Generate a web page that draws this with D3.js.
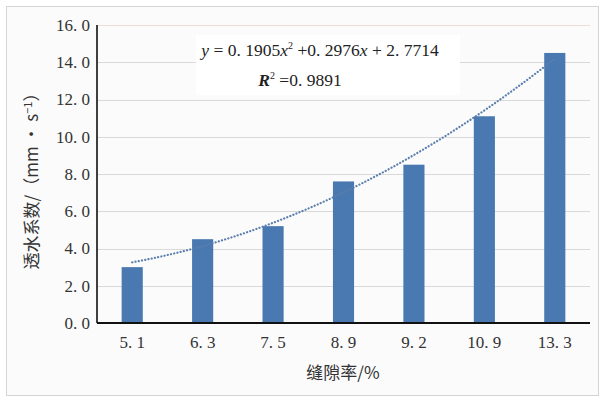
<!DOCTYPE html>
<html>
<head>
<meta charset="utf-8">
<script src="https://cdn.jsdelivr.net/npm/d3@7"></script>
<style>
  html, body { margin: 0; padding: 0; background: #fff; }
  svg { display: block; }
</style>
</head>
<body>
<div id="chart"></div>
<script>
// Permeability coefficient vs. gap ratio, with a quadratic trendline.
const categories = ['5.1', '6.3', '7.5', '8.9', '9.2', '10.9', '13.3'];
const permeability = [3.0, 4.5, 5.2, 7.6, 8.5, 11.1, 14.5];
const yTicks = [0, 2, 4, 6, 8, 10, 12, 14, 16];
// Trendline coefficients as printed on the chart (x = category index 1..7).
const trendCoef = [0.1905, 0.2976, 2.7714];
const rSquared = '0.9891';

(function(){
  const width = 603, height = 401;
  const margin = {top: 25, right: 13, bottom: 78, left: 97};
  const svg = d3.select('#chart').append('svg')
    .attr('width', width).attr('height', height);

  // Outer frame of the figure.
  svg.append('rect')
    .attr('x', 6.5).attr('y', 6.5)
    .attr('width', width - 11).attr('height', height - 12)
    .attr('fill', '#fbfbfb').attr('stroke', '#d4d4d4');

  const x = d3.scaleBand()
    .domain(categories)
    .range([margin.left, width - margin.right]);
  const y = d3.scaleLinear()
    .domain([0, 16])
    .range([height - margin.bottom, margin.top]);

  // Horizontal gridlines; the top one is tinted like the original.
  svg.append('g').selectAll('line')
    .data(yTicks.filter(d => d > 0))
    .join('line')
    .attr('x1', margin.left).attr('x2', width - margin.right)
    .attr('y1', d => Math.round(y(d)) + 0.5).attr('y2', d => Math.round(y(d)) + 0.5)
    .attr('stroke', d => d === 16 ? '#ecdcd2' : '#d9d9d9')
    .attr('stroke-width', 1.2);

  // Bars, 30% of each category band.
  const barW = x.bandwidth() * 0.3;
  svg.append('g').selectAll('rect')
    .data(permeability)
    .join('rect')
    .attr('x', (d, i) => x(categories[i]) + (x.bandwidth() - barW) / 2)
    .attr('y', d => y(d))
    .attr('width', barW)
    .attr('height', d => y(0) - y(d))
    .attr('fill', '#4a78b1');

  // Quadratic trendline drawn from the printed equation.
  const trendX = d3.range(1, 7.001, 0.1);
  const poly = t => trendCoef[0] * t * t + trendCoef[1] * t + trendCoef[2];
  const idxToPx = d3.scaleLinear()
    .domain([1, categories.length])
    .range([x(categories[0]) + x.bandwidth() / 2, x(categories[categories.length - 1]) + x.bandwidth() / 2]);
  svg.append('path')
    .datum(trendX)
    .attr('fill', 'none')
    .attr('stroke', '#5a7fae')
    .attr('stroke-width', 2.2)
    .attr('stroke-dasharray', '0.1,3.2')
    .attr('stroke-linecap', 'round')
    .attr('d', d3.line().x(t => idxToPx(t)).y(t => y(poly(t))));

  // Axes lines.
  svg.append('line')
    .attr('x1', margin.left).attr('x2', margin.left)
    .attr('y1', margin.top).attr('y2', y(0))
    .attr('stroke', '#111').attr('stroke-width', 1.6);
  svg.append('line')
    .attr('x1', margin.left).attr('x2', width - margin.right)
    .attr('y1', y(0)).attr('y2', y(0))
    .attr('stroke', '#111').attr('stroke-width', 1.8);

  const fmt = d => d3.format('.1f')(d).replace('.', '. ');
  const numFont = '"Times New Roman", "Liberation Serif", "DejaVu Serif", serif';

  // Y tick labels.
  svg.append('g').selectAll('text')
    .data(yTicks)
    .join('text')
    .attr('x', margin.left - 7)
    .attr('y', d => y(d))
    .attr('dy', '0.35em')
    .attr('text-anchor', 'end')
    .attr('font-family', numFont)
    .attr('font-size', 17)
    .attr('fill', '#333')
    .text(fmt);

  // X tick labels.
  svg.append('g').selectAll('text')
    .data(categories)
    .join('text')
    .attr('x', d => x(d) + x.bandwidth() / 2)
    .attr('y', y(0) + 25)
    .attr('text-anchor', 'middle')
    .attr('font-family', numFont)
    .attr('font-size', 17)
    .attr('fill', '#333')
    .text(d => d.replace('.', '. '));

  const cjkFont = '"Noto Sans CJK SC", sans-serif';

  // X axis title.
  svg.append('text')
    .attr('x', 343).attr('y', 379)
    .attr('text-anchor', 'middle')
    .attr('font-family', cjkFont)
    .attr('font-size', 17)
    .attr('fill', '#333')
    .text('缝隙率/%');

  // Y axis title (rotated), with superscript -1.
  const yt = svg.append('text')
    .attr('transform', 'translate(38,177) rotate(-90)')
    .attr('text-anchor', 'middle')
    .attr('font-family', cjkFont)
    .attr('font-size', 17)
    .attr('fill', '#333');
  yt.append('tspan').text('透水系数/（mm • s');
  yt.append('tspan').attr('dy', -6).attr('font-size', 11).text('−1');
  yt.append('tspan').attr('dy', 6).text('）');

  // Equation box.
  svg.append('rect')
    .attr('x', 196).attr('y', 35).attr('width', 264).attr('height', 60)
    .attr('fill', '#fff');
  const eq = svg.append('text')
    .attr('x', 320).attr('y', 56)
    .attr('text-anchor', 'middle')
    .attr('font-family', numFont)
    .attr('font-size', 17.5)
    .attr('fill', '#222');
  eq.append('tspan').attr('font-style', 'italic').text('y');
  eq.append('tspan').text(' = ' + fmt4(trendCoef[0]));
  eq.append('tspan').attr('font-style', 'italic').text('x');
  eq.append('tspan').attr('dy', -7).attr('font-size', 10).text('2');
  eq.append('tspan').attr('dy', 7).text(' +' + fmt4(trendCoef[1]));
  eq.append('tspan').attr('font-style', 'italic').text('x');
  eq.append('tspan').text(' + ' + fmt4(trendCoef[2]));

  const r2 = svg.append('text')
    .attr('x', 300).attr('y', 86)
    .attr('text-anchor', 'middle')
    .attr('font-family', numFont)
    .attr('font-size', 17.5)
    .attr('fill', '#222');
  r2.append('tspan').attr('font-style', 'italic').attr('font-weight', 'bold').text('R');
  r2.append('tspan').attr('dy', -7).attr('font-size', 10).text('2');
  r2.append('tspan').attr('dy', 7).text(' =' + rSquared.replace('.', '. '));

  function fmt4(v){ return d3.format('.4f')(v).replace('.', '. '); }
})();
</script>
</body>
</html>
